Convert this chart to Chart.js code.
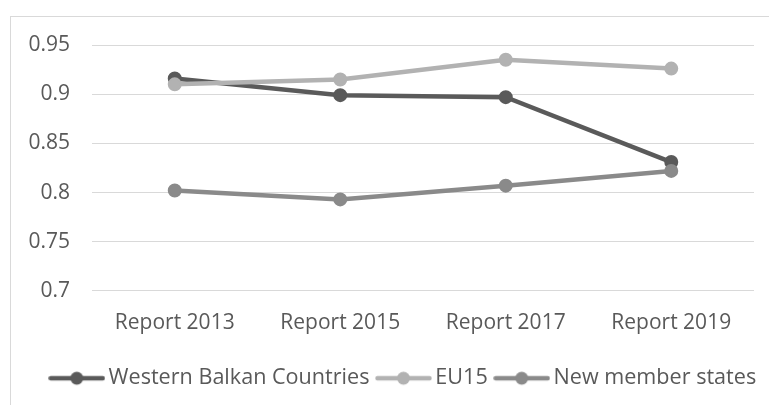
<!DOCTYPE html>
<html>
<head>
<meta charset="utf-8">
<script src="https://cdn.jsdelivr.net/npm/chart.js@4/dist/chart.umd.min.js"></script>
<style>
  html, body { margin: 0; padding: 0; background: #fff; overflow: hidden; width: 769px; height: 405px; }
  #wrap { position: absolute; left: 0; top: 0; width: 812px; height: 405px; }
</style>
</head>
<body>
<div id="wrap"><canvas id="c" width="812" height="405"></canvas></div>
<script>
const categories = ['Report 2013', 'Report 2015', 'Report 2017', 'Report 2019'];
const westernBalkan = [0.916, 0.899, 0.897, 0.831];
const eu15 = [0.910, 0.915, 0.935, 0.926];
const newMemberStates = [0.802, 0.793, 0.807, 0.822];
const seriesNames = ['Western Balkan Countries', 'EU15', 'New member states'];
const seriesColors = ['#5a5a5a', '#b2b2b2', '#8a8a8a'];
const yTicks = [0.7, 0.75, 0.8, 0.85, 0.9, 0.95];

const FONT = "'Open Sans', 'Noto Sans', sans-serif";
const TEXT = '#595959';
const GRID = '#d9d9d9';

function legendMarker(color) {
  const cv = document.createElement('canvas');
  cv.width = 57; cv.height = 16;
  const g = cv.getContext('2d');
  g.strokeStyle = color; g.lineWidth = 4.5; g.lineCap = 'round';
  g.beginPath(); g.moveTo(2.5, 8); g.lineTo(54.5, 8); g.stroke();
  g.fillStyle = color;
  g.beginPath(); g.arc(28.5, 8, 6.5, 0, Math.PI * 2); g.fill();
  return cv;
}

const seriesData = [westernBalkan, eu15, newMemberStates];
const datasets = seriesData.map((d, i) => ({
  label: seriesNames[i],
  data: d,
  borderColor: seriesColors[i],
  backgroundColor: seriesColors[i],
  pointBackgroundColor: seriesColors[i],
  pointBorderColor: seriesColors[i],
  borderWidth: 4.5,
  pointRadius: 6,
  pointBorderWidth: 2,
  tension: 0,
  fill: false,
  order: 3 - i,
  yAxisID: 'y'
}));

const framePlugin = {
  id: 'frame',
  beforeDraw(chart) {
    const ctx = chart.ctx;
    ctx.save();
    ctx.strokeStyle = GRID;
    ctx.lineWidth = 1;
    ctx.strokeRect(10.5, 16.5, 791, 420);
    ctx.restore();
  }
};

new Chart(document.getElementById('c'), {
  type: 'line',
  data: { labels: categories, datasets },
  plugins: [framePlugin],
  options: {
    responsive: false,
    animation: false,
    layout: { padding: { top: 45, left: 0, right: 0, bottom: 6 } },
    scales: {
      x: {
        offset: true,
        grid: { display: false, drawTicks: false },
        border: { display: false },
        ticks: { color: TEXT, font: { family: FONT, size: 21 }, padding: 20, maxRotation: 0 },
        afterFit(s) { s.height = 63.5; }
      },
      y: {
        min: 0.7, max: 0.95,
        afterBuildTicks(s) { s.ticks = yTicks.map(v => ({ value: v })); },
        grid: { color: GRID, lineWidth: 1, drawTicks: false },
        border: { display: false },
        ticks: { color: TEXT, font: { family: FONT, size: 21 }, padding: 22,
                 callback: v => String(v) },
        afterFit(s) { s.width = 92; }
      },
      yr: {
        position: 'right',
        display: true,
        grid: { display: false, drawTicks: false },
        border: { display: false },
        ticks: { display: false },
        afterFit(s) { s.width = 58; }
      }
    },
    plugins: {
      tooltip: { enabled: false },
      legend: {
        position: 'bottom',
        align: 'center',
        labels: {
          color: TEXT,
          font: { family: FONT, size: 21.6 },
          usePointStyle: true,
          pointStyleWidth: 42,
          boxHeight: 16,
          padding: 13,
          sort: (a, b) => a.datasetIndex - b.datasetIndex,
          generateLabels(chart) {
            const items = Chart.defaults.plugins.legend.labels.generateLabels(chart);
            return items.map(it => Object.assign(it, {
              pointStyle: legendMarker(seriesColors[it.datasetIndex]),
              fontColor: TEXT
            }));
          }
        }
      }
    }
  }
});
</script>
</body>
</html>
